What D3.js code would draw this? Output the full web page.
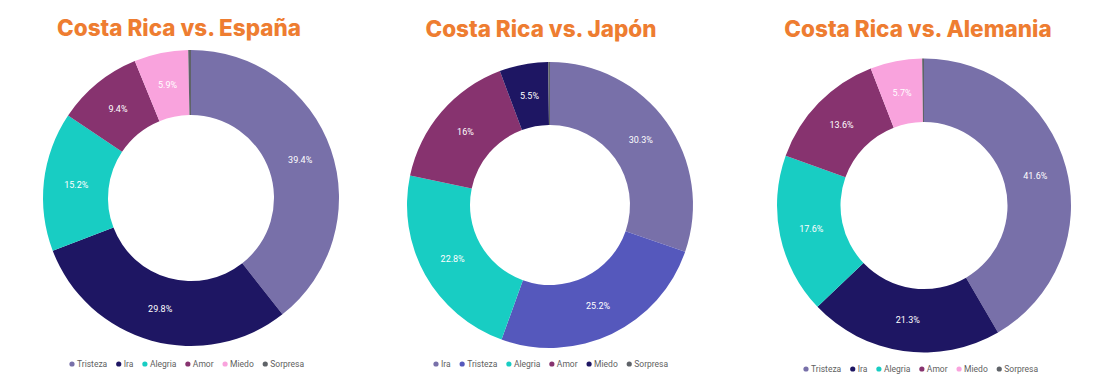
<!DOCTYPE html>
<html>
<head>
<meta charset="utf-8">
<script src="https://cdn.jsdelivr.net/npm/d3@7"></script>
<style>
  body { margin: 0; background: #fff; }
  .title { font-family: Inter, "Open Sans", sans-serif; font-weight: 800; fill: #ee7d31; }
  .slice-label { font-family: Roboto, sans-serif; font-size: 9px; fill: #fff; }
  .legend-label { font-family: Roboto, sans-serif; font-size: 8.5px; fill: #5f5f5f; }
</style>
</head>
<body>
<script>
// chart data
var titles = ["Costa Rica vs. España", "Costa Rica vs. Japón", "Costa Rica vs. Alemania"];

var espanaLabels = ["Tristeza", "Ira", "Alegria", "Amor", "Miedo", "Sorpresa"];
var espanaValues = [39.4, 29.8, 15.2, 9.4, 5.9, 0.3];
var espanaColors = ["#7870a9", "#1e1663", "#18cdc3", "#87336f", "#f9a3dd", "#5f6368"];

var japonLabels = ["Ira", "Tristeza", "Alegria", "Amor", "Miedo", "Sorpresa"];
var japonValues = [30.3, 25.2, 22.8, 16, 5.5, 0.2];
var japonColors = ["#7870a9", "#5558bc", "#18cdc3", "#87336f", "#1e1663", "#5f6368"];

var alemaniaLabels = ["Tristeza", "Ira", "Alegria", "Amor", "Miedo", "Sorpresa"];
var alemaniaValues = [41.6, 21.3, 17.6, 13.6, 5.7, 0.2];
var alemaniaColors = ["#7870a9", "#1e1663", "#18cdc3", "#87336f", "#f9a3dd", "#5f6368"];

//page size
var width = 1110,
    height = 386;

var svg = d3.select("body")
    .append("svg")
    .attr("width", width)
    .attr("height", height);

//layout for each donut: center, radii, title and legend positions
var panels = [
    {labels: espanaLabels, values: espanaValues, colors: espanaColors,
     cx: 191, cy: 198, outer: 148, inner: 83, titleX: 179, titleY: 36, legX: 72, legY: 364},
    {labels: japonLabels, values: japonValues, colors: japonColors,
     cx: 550, cy: 205, outer: 143, inner: 80, titleX: 541, titleY: 37, legX: 436, legY: 364},
    {labels: alemaniaLabels, values: alemaniaValues, colors: alemaniaColors,
     cx: 924, cy: 205.5, outer: 147, inner: 83.5, titleX: 918, titleY: 37, legX: 806, legY: 369}
];

var pie = d3.pie()
    .sort(null)
    .value(function(d){ return d; });

panels.forEach(function(p, i){

    //title
    svg.append("text")
        .attr("class", "title")
        .attr("x", p.titleX)
        .attr("y", p.titleY)
        .attr("text-anchor", "middle")
        .style("font-size", "22.5px")
        .text(titles[i]);

    var g = svg.append("g")
        .attr("transform", "translate(" + p.cx + "," + p.cy + ")");

    var arc = d3.arc()
        .innerRadius(p.inner)
        .outerRadius(p.outer);

    var color = d3.scaleOrdinal()
        .domain(p.labels)
        .range(p.colors);

    var arcs = pie(p.values);

    //donut slices
    g.selectAll(".slice")
        .data(arcs)
        .enter()
        .append("path")
        .attr("class", "slice")
        .attr("d", arc)
        .attr("fill", function(d, j){ return color(p.labels[j]); });

    //percent labels, only for the slices big enough
    g.selectAll(".slice-label")
        .data(arcs.filter(function(d){ return d.value >= 1; }))
        .enter()
        .append("text")
        .attr("class", "slice-label")
        .attr("transform", function(d){ return "translate(" + arc.centroid(d) + ")"; })
        .attr("text-anchor", "middle")
        .attr("dy", "0.35em")
        .text(function(d){ return d.value + "%"; });

    //legend, laid out from the measured text widths
    var leg = svg.append("g")
        .attr("transform", "translate(" + p.legX + "," + p.legY + ")");

    var xpos = 0;
    p.labels.forEach(function(name){
        var item = leg.append("g")
            .attr("transform", "translate(" + xpos + ",0)");
        item.append("circle")
            .attr("r", 2.6)
            .attr("fill", color(name));
        var t = item.append("text")
            .attr("class", "legend-label")
            .attr("x", 5)
            .attr("dy", "0.35em")
            .text(name);
        xpos += 5 + t.node().getComputedTextLength() + 11.5;
    });
});
</script>
</body>
</html>
